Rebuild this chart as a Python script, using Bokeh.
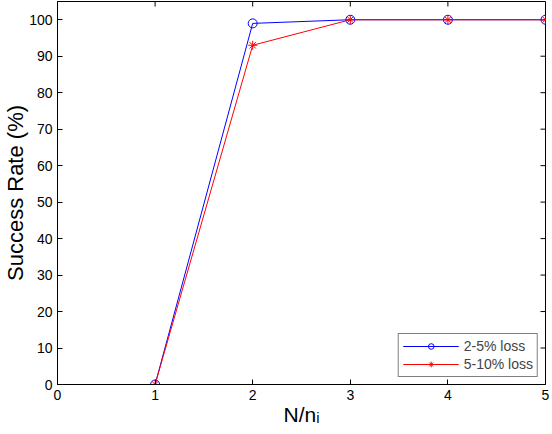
from bokeh.plotting import figure
from bokeh.models import ColumnDataSource, Legend, LegendItem, FixedTicker, Range1d
from bokeh.embed import file_html
from bokeh.resources import INLINE

# data
ratio = [1, 2, 3, 4, 5]
loss_2_5 = [0, 99, 100, 100, 100]
loss_5_10 = [0, 93, 100, 100, 100]

x_ticks = [0, 1, 2, 3, 4, 5]
y_ticks = list(range(0, 101, 10))

X_MAX = 5
Y_MAX = 105
FONT = "Liberation Sans"

src = ColumnDataSource(dict(x=ratio, a=loss_2_5, b=loss_5_10))

p = figure(
    width=552,
    height=434,
    x_range=Range1d(0, X_MAX),
    y_range=Range1d(0, Y_MAX),
    output_backend="svg",
    toolbar_location=None,
    min_border_left=57,
    min_border_right=7,
    min_border_top=1,
    min_border_bottom=50,
    x_axis_label="N/nᵢ",
    y_axis_label="Success Rate (%)",
)
p.background_fill_color = "white"
p.border_fill_color = "white"
p.outline_line_color = "black"
p.grid.grid_line_color = None

p.xaxis.ticker = FixedTicker(ticks=x_ticks)
p.yaxis.ticker = FixedTicker(ticks=y_ticks)

p.axis.axis_line_color = "black"
p.axis.major_tick_line_color = "black"
p.axis.major_tick_in = 5
p.axis.major_tick_out = 0
p.axis.minor_tick_line_color = None
p.axis.major_label_text_font = FONT
p.axis.major_label_text_font_size = "14px"
p.axis.major_label_text_color = "black"
p.axis.major_label_standoff = 5
p.axis.axis_label_text_font = FONT
p.axis.axis_label_text_font_style = "normal"
p.axis.axis_label_text_color = "black"
p.xaxis.axis_label_text_font_size = "21px"
p.yaxis.axis_label_text_font_size = "22px"
p.xaxis.axis_label_standoff = 0
p.yaxis.axis_label_standoff = -2

# matlab style box ticks on the top and right edges
tick_dx = 5 / 488 * X_MAX
tick_dy = 5 / 383 * Y_MAX
p.segment(x0=x_ticks, y0=[Y_MAX] * len(x_ticks), x1=x_ticks,
          y1=[Y_MAX - tick_dy] * len(x_ticks), color="black", line_width=1)
p.segment(x0=[X_MAX] * len(y_ticks), y0=y_ticks, x1=[X_MAX - tick_dx] * len(y_ticks),
          y1=y_ticks, color="black", line_width=1)

# series
l1 = p.line("x", "a", source=src, color="blue", line_width=1)
m1 = p.scatter("x", "a", source=src, marker="circle", size=9,
               fill_color=None, line_color="blue", line_width=1)
l2 = p.line("x", "b", source=src, color="red", line_width=1)
m2 = p.scatter("x", "b", source=src, marker="asterisk", size=9,
               line_color="red", line_width=1)

legend = Legend(
    items=[
        LegendItem(label="2-5% loss", renderers=[l1, m1]),
        LegendItem(label="5-10% loss", renderers=[l2, m2]),
    ],
    location="bottom_right",
    margin=7,
    padding=4,
    spacing=2,
    glyph_width=56,
    glyph_height=14,
    label_height=14,
    label_standoff=5,
    label_text_font=FONT,
    label_text_font_size="14px",
    border_line_color="black",
    border_line_width=1,
    background_fill_alpha=1,
)
p.add_layout(legend, "center")

open("out.html", "w").write(file_html(p, INLINE))
